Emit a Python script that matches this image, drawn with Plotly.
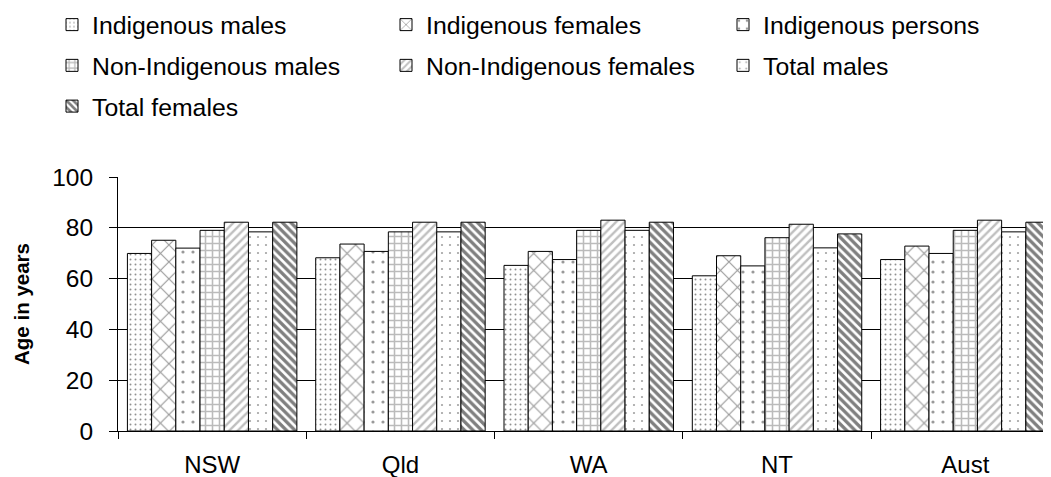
import plotly.graph_objects as go

regions = ["NSW", "Qld", "WA", "NT", "Aust"]
indigenous_males = [69.9, 68.2, 65.2, 61.1, 67.5]
indigenous_females = [75.1, 73.6, 70.7, 69.0, 72.8]
indigenous_persons = [72.0, 70.7, 67.5, 65.0, 69.9]
non_indigenous_males = [79.0, 78.4, 79.0, 76.1, 79.0]
non_indigenous_females = [82.2, 82.2, 83.0, 81.4, 83.0]
total_males = [78.4, 78.4, 79.0, 72.1, 78.4]
total_females = [82.2, 82.2, 82.2, 77.6, 82.2]

series = [
    ("Indigenous males", indigenous_males, dict(shape=".", fgcolor="#222222", size=5, solidity=0.12), "legend"),
    ("Indigenous females", indigenous_females, dict(shape="x", fgcolor="#333333", size=12, solidity=0.18), "legend2"),
    ("Indigenous persons", indigenous_persons, dict(shape=".", fgcolor="#333333", size=10, solidity=0.08), "legend3"),
    ("Non-Indigenous males", non_indigenous_males, dict(shape="+", fgcolor="#777777", size=7, solidity=0.4), "legend"),
    ("Non-Indigenous females", non_indigenous_females, dict(shape="/", fgcolor="#808080", size=6, solidity=0.4), "legend2"),
    ("Total males", total_males, dict(shape=".", fgcolor="#444444", size=8, solidity=0.06), "legend3"),
    ("Total females", total_females, dict(shape="\\", fgcolor="#000000", size=6, solidity=0.55), "legend"),
]

fig = go.Figure()
for i, (name, vals, pat, lg) in enumerate(series):
    p = dict(pat)
    p["bgcolor"] = "white"
    p["fillmode"] = "overlay"
    fig.add_trace(go.Bar(
        x=regions, y=vals, name=name, legend=lg, legendgroup=name,
        marker=dict(color="white", line=dict(color="black", width=1), pattern=p),
    ))

# page body has an 8px margin, so the figure is drawn 8px in from the window corner
OFF = 8
W, H = 1051 - OFF, 477 - OFF + 1
L, R, T, B = 118 - OFF, 0, 177 - OFF, H - (431 - OFF)
pw = W - L - R
ph = H - T - B

def px_x(x):  # absolute window px -> paper
    return (x - OFF - L) / pw

def px_y(y):
    return (H - B - (y - OFF)) / ph

legend_common = dict(
    orientation="v", xanchor="left", yanchor="top", bgcolor="rgba(0,0,0,0)",
    borderwidth=0, font=dict(family="Liberation Sans, Arial, sans-serif", size=24.8, color="black"),
    tracegroupgap=5.5, traceorder="grouped",
)

fig.update_layout(
    width=W, height=H,
    margin=dict(l=L, r=R, t=T, b=B, autoexpand=False),
    paper_bgcolor="white", plot_bgcolor="white",
    barmode="group", bargap=0.1, bargroupgap=0,
    font=dict(family="Liberation Sans, Arial, sans-serif", size=24, color="black"),
    legend=dict(x=px_x(52), y=px_y(2), **legend_common),
    legend2=dict(x=px_x(386), y=px_y(2), **legend_common),
    legend3=dict(x=px_x(723), y=px_y(2), **legend_common),
    xaxis=dict(
        range=[-0.5, 4.455], showline=True, linecolor="black", linewidth=1,
        ticks="outside", tickson="boundaries", ticklen=7, tickcolor="black",
        showgrid=False, ticklabelstandoff=12, tickfont=dict(size=24),
    ),
    yaxis=dict(
        range=[0, 100], dtick=20, showline=True, linecolor="black", linewidth=1,
        ticks="outside", ticklen=8, tickcolor="black", showgrid=True,
        gridcolor="black", gridwidth=1, zeroline=False, ticklabelstandoff=11,
        tickfont=dict(size=24.5),
        title=dict(text="<b>Age in years</b>", font=dict(size=20.5), standoff=17),
    ),
)

fig.write_html("out.html")
